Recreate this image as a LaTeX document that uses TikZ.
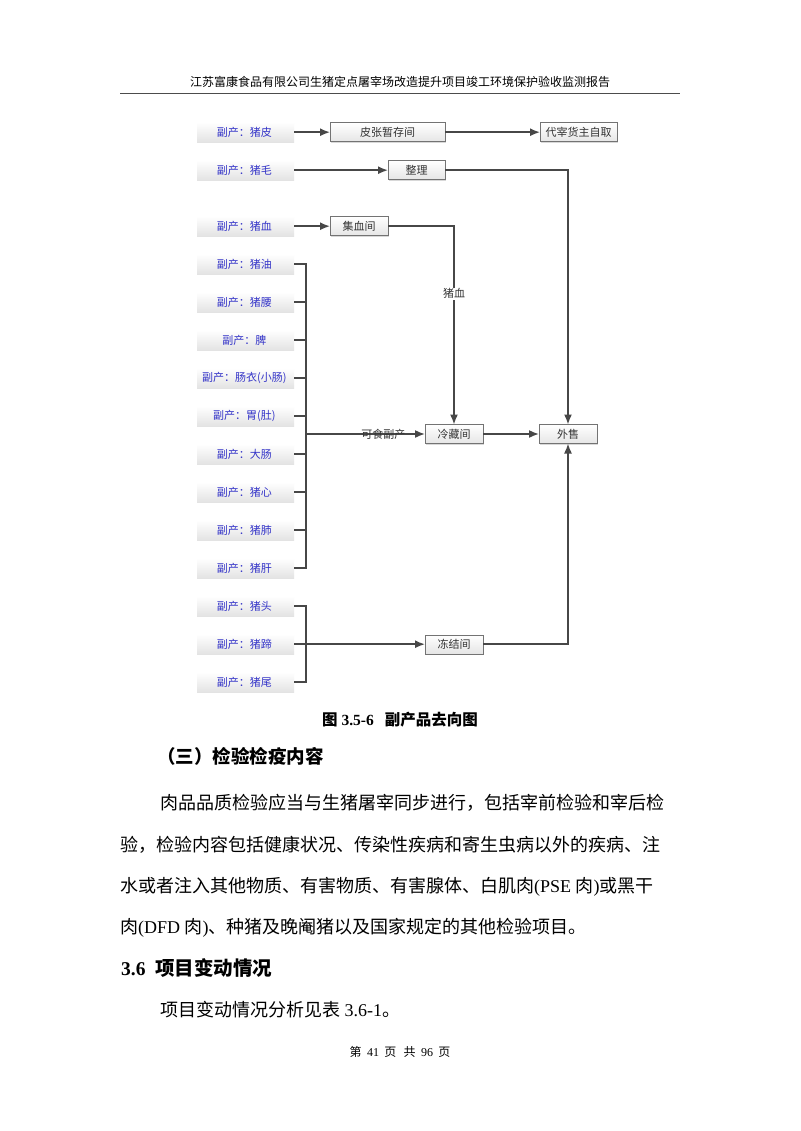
\documentclass[tikz,border=0pt]{standalone}
\usepackage{fontspec}
\setmainfont{Noto Sans CJK SC}
\newfontfamily\lat{Liberation Serif}
\usetikzlibrary{positioning,matrix,arrows.meta,shadows}
\definecolor{side blue}{HTML}{3535C8}
\tikzset{
    side box/.style={
        rectangle,
        minimum width=97pt,
        minimum height=20pt,
        inner sep=0pt,
        outer sep=0pt,
        top color=white,
        bottom color=black!11,
        draw=none,
        text=side blue,
        font=\fontsize{11}{13}\selectfont,
        align=center
    },
    room box/.style={
        rectangle,
        minimum width=58pt,
        minimum height=19pt,
        inner sep=0pt,
        outer sep=0pt,
        draw=black!55,
        top color=white,
        bottom color=black!10,
        text=black!80,
        font=\fontsize{11}{13}\selectfont,
        drop shadow={shadow xshift=1pt, shadow yshift=-1pt, opacity=0.3}
    },
    link/.style={draw=black!72, line width=1.6pt},
    flow/.style={link, -{Latex[length=10pt,width=8pt]}},
    flow label/.style={text=black!80, font=\fontsize{11}{13}\selectfont, inner sep=1pt},
    page text/.style={anchor=west, inner sep=0pt, font=\fontsize{18}{20}\selectfont}
}

\begin{document}
\begin{tikzpicture}[x=1pt, y=-1pt]
\fill[white] (0,0) rectangle (800,1131);
\useasboundingbox (0,0) rectangle (800,1131);

% page header
\node[inner sep=0pt, font=\fontsize{12}{14}\selectfont] (hdr) at (400,82) {江苏富康食品有限公司生猪定点屠宰场改造提升项目竣工环境保护验收监测报告};
\draw[black!70, line width=0.8pt] (120,93) -- (680,93);

% left column of by-products (side-row-1)
\matrix[matrix of nodes,
        row sep=18pt,
        inner sep=0pt,
        nodes={side box},
        anchor=north] (side) at (245.5,122) {
    副产：猪皮 \\
    副产：猪毛 \\[18pt]
    副产：猪血 \\
    副产：猪油 \\
    副产：猪腰 \\
    副产：脾 \\
    副产：肠衣(小肠) \\
    副产：胃(肚) \\
    副产：大肠 \\
    副产：猪心 \\
    副产：猪肺 \\
    副产：猪肝 \\
    副产：猪头 \\
    副产：猪蹄 \\
    副产：猪尾 \\
};

% rooms
\node[room box, minimum width=115pt, right=36pt of side-1-1] (pizhang) {皮张暂存间};
\node[room box, minimum width=77pt, right=95pt of pizhang] (daizai) {代宰货主自取};
\node[room box, minimum width=57pt, right=94pt of side-2-1] (zhengli) {整理};
\node[room box, right=36pt of side-3-1] (jixue) {集血间};
\node[room box] (lengcang) at (454,434) {冷藏间};
\node[room box, right=56pt of lengcang] (waishou) {外售};
\node[room box, right=131pt of side-14-1] (dongjie) {冻结间};
\coordinate (bus) at (306,0);

% top rows
\draw[flow] (side-1-1) -- (pizhang);
\draw[flow] (pizhang) -- (daizai);
\draw[flow] (side-2-1) -- (zhengli);
\draw[flow] (zhengli) -| (waishou);
\draw[flow] (side-3-1) -- (jixue);
\draw[flow] (jixue) -| node[pos=0.67, flow label, fill=white] {猪血} (lengcang);

% edible by-products
\draw[link] (side-4-1.east) -- (side-4-1.east -| bus) -- (side-12-1.east -| bus) -- (side-12-1.east);
\foreach \i in {5,...,11}
    \draw[link] (side-\i-1.east) -- (side-\i-1.east -| bus);
\draw[flow] (lengcang.west -| bus) -- node[pos=0.65, flow label] {可食副产} (lengcang);
\draw[flow] (lengcang) -- (waishou);

% frozen by-products
\draw[link] (side-13-1.east) -- (side-13-1.east -| bus) -- (side-15-1.east -| bus) -- (side-15-1.east);
\draw[flow] (side-14-1) -- (dongjie);
\draw[flow] (dongjie) -| (waishou);

% caption and body text
\node[inner sep=0pt, font=\fontsize{15.5}{18}\selectfont\bfseries] (cap) at (400,720) {图{\lat\bfseries\ 3.5-6}\hspace{0.7em}副产品去向图};
\node[page text, font=\fontsize{18.5}{20}\selectfont\bfseries] (sec3) at (157,756) {（三）检验检疫内容};
\node[page text] (para1) at (160,803) {肉品品质检验应当与生猪屠宰同步进行，包括宰前检验和宰后检};
\node[page text] (para2) at (120,845) {验，检验内容包括健康状况、传染性疾病和寄生虫病以外的疾病、注};
\node[page text] (para3) at (120,887) {水或者注入其他物质、有害物质、有害腺体、白肌肉{\lat(PSE }肉{\lat)}或黑干};
\node[page text] (para4) at (120,928) {肉{\lat(DFD }肉{\lat)}、种猪及晚阉猪以及国家规定的其他检验项目。};
\node[page text, font=\fontsize{19.5}{22}\selectfont\bfseries] (sec36) at (121,968) {{\lat\bfseries 3.6}\hspace{0.5em}项目变动情况};
\node[page text] (note) at (160,1010) {项目变动情况分析见表{\lat\ 3.6-1}。};
\node[inner sep=0pt, font=\fontsize{12}{14}\selectfont] (pageno) at (400,1052) {第\hspace{0.45em}{\lat 41}\hspace{0.45em}页\hspace{0.6em}共\hspace{0.45em}{\lat 96}\hspace{0.45em}页};
\end{tikzpicture}
\end{document}
